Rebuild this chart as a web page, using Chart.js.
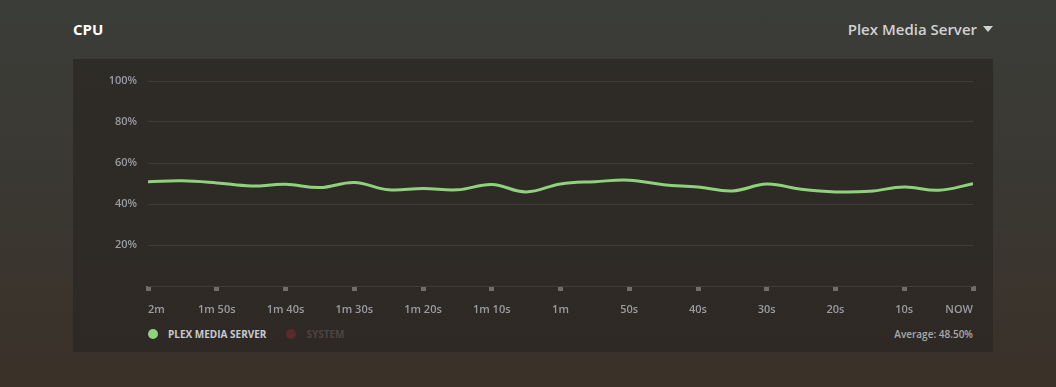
<!DOCTYPE html>
<html>
<head>
<meta charset="utf-8">
<script src="https://cdn.jsdelivr.net/npm/chart.js"></script>
<style>
  html, body { margin: 0; padding: 0; }
  body {
    width: 1056px; height: 387px; overflow: hidden; position: relative;
    font-family: "Open Sans", sans-serif;
    background: linear-gradient(180deg, #3b3d39 0%, #3a3731 55%, #3a3128 100%);
  }
  .title { position: absolute; left: 73px; top: 19px; color: #fff; font-size: 15px; font-weight: 700; }
  .server { position: absolute; right: 63px; top: 19px; color: #d2d2d2; font-size: 15px; font-weight: 600; }
  .server .caret { display: inline-block; margin-left: 6px; width: 0; height: 0; vertical-align: 3px;
    border-left: 5px solid transparent; border-right: 5px solid transparent; border-top: 6px solid #d2d2d2; }
  .panel { position: absolute; left: 73px; top: 59px; width: 920px; height: 293px;
    background: linear-gradient(180deg, #2e2c28 0%, #2e2924 100%); }
  #wrap { position: absolute; left: 0; top: 0; width: 920px; height: 262px; }
  .legend { position: absolute; left: 75px; top: 268px; font-size: 10px; font-weight: 700; }
  .legend span.item { display: inline-block; margin-right: 20px; }
  .legend .dot { display: inline-block; width: 10px; height: 10px; border-radius: 50%; margin-right: 10px; vertical-align: -1px; }
  .avg { position: absolute; right: 20px; top: 268px; font-size: 10px; font-weight: 600; color: #a9a9ad; }
</style>
</head>
<body>
<div class="title">CPU</div>
<div class="server">Plex Media Server<span class="caret"></span></div>
<div class="panel">
  <div id="wrap"><canvas id="cpu"></canvas></div>
  <div class="legend" id="legend"></div>
  <div class="avg" id="avg"></div>
</div>
<script>
const secondsAgo = [120, 115, 110, 105, 100, 95, 90, 85, 80, 75, 70, 65, 60, 55, 50, 45, 40, 35, 30, 25, 20, 15, 10, 5, 0];
const plexCpu = [50.9, 51.3, 50.3, 48.8, 49.6, 48.0, 50.5, 46.9, 47.6, 46.9, 49.5, 45.9, 49.8, 50.9, 51.6, 49.4, 48.3, 46.4, 49.7, 47.2, 45.9, 46.2, 48.3, 46.7, 49.9];
const tickSeconds = [120, 110, 100, 90, 80, 70, 60, 50, 40, 30, 20, 10, 0];
const tickLabels = ["2m", "1m 50s", "1m 40s", "1m 30s", "1m 20s", "1m 10s", "1m", "50s", "40s", "30s", "20s", "10s", "NOW"];
const seriesNames = ["PLEX MEDIA SERVER", "SYSTEM"];
const seriesColors = ["#8fd27c", "#5b2a2d"];
const seriesTextColors = ["#c9cacd", "#4d4542"];
const averageText = "Average: 48.50%";

const points = secondsAgo.map((s, i) => ({ x: -s, y: plexCpu[i] }));

new Chart(document.getElementById("cpu"), {
  type: "line",
  data: {
    datasets: [{
      label: seriesNames[0],
      data: points,
      borderColor: seriesColors[0],
      borderWidth: 3,
      tension: 0.4,
      pointRadius: 0,
      fill: false
    }]
  },
  options: {
    responsive: true,
    maintainAspectRatio: false,
    animation: false,
    layout: { padding: { top: 22, right: 20, left: 0, bottom: 0 } },
    plugins: { legend: { display: false }, tooltip: { enabled: false } },
    scales: {
      x: {
        type: "linear",
        min: -120,
        max: 0,
        afterBuildTicks: (axis) => { axis.ticks = tickSeconds.map(s => ({ value: -s })); },
        afterFit: (axis) => { axis.height = 35; },
        border: { display: false },
        grid: { drawOnChartArea: false, drawTicks: true, tickLength: 5, tickWidth: 5, tickColor: "#6f6d6a" },
        ticks: {
          align: "inner",
          maxRotation: 0,
          autoSkip: false,
          padding: 12,
          color: "#9b9ca2",
          font: { family: "Open Sans", size: 11, weight: "600" },
          callback: (v) => tickLabels[tickSeconds.indexOf(-v)]
        }
      },
      y: {
        min: 0,
        max: 100,
        afterFit: (axis) => { axis.width = 75; },
        border: { display: false },
        grid: { color: "#403d39", lineWidth: 1, drawTicks: false },
        ticks: {
          stepSize: 20,
          padding: 11,
          color: "#9b9ca2",
          font: { family: "Open Sans", size: 11, weight: "600" },
          callback: (v) => v === 0 ? "" : v + "%"
        }
      }
    }
  }
});

document.getElementById("legend").innerHTML = seriesNames.map((n, i) =>
  `<span class="item" style="color:${seriesTextColors[i]}"><span class="dot" style="background:${seriesColors[i]}"></span>${n}</span>`
).join("");
document.getElementById("avg").textContent = averageText;
</script>
</body>
</html>
